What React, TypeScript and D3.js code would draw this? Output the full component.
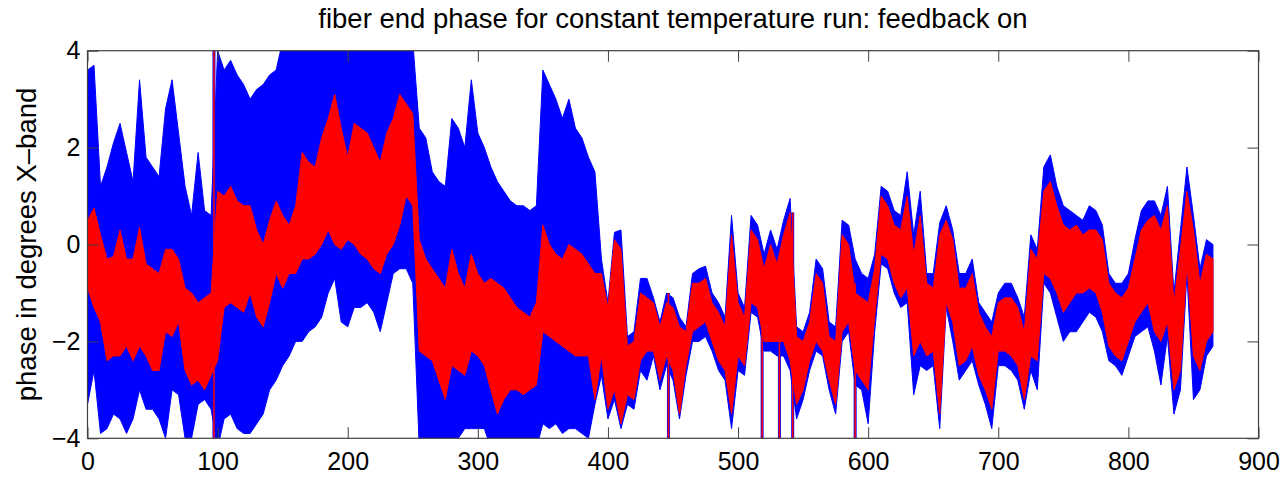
import React, { useRef, useEffect } from "react";
import * as d3 from "d3";

// envelope of the traces, every 5 units of x (0 .. 865)
const sampleStep = 5;

const blueHi = [
  3.6, 3.7, 1.2, 1.6, 2.1, 2.5, 1.9, 1.3, 3.4, 1.8,
  1.6, 1.4, 2.8, 3.4, 2.3, 1.2, 0.6, 1.9, 0.7, 0.6,
  4.0, 3.6, 3.8, 3.5, 3.3, 3.0, 3.2, 3.3, 3.5, 3.6,
  4.2, 4.2, 4.2, 4.2, 4.2, 4.2, 4.2, 4.2, 4.2, 4.2,
  4.2, 4.2, 4.2, 4.2, 4.2, 4.2, 4.2, 4.2, 4.2, 4.2,
  4.2, 2.4, 2.2, 1.5, 1.3, 1.2, 2.6, 2.4, 2.0, 3.4,
  2.3, 2.0, 1.6, 1.3, 1.1, 0.9, 0.8, 0.8, 0.7, 0.8,
  3.6, 3.3, 3.0, 2.6, 3.0, 2.4, 2.2, 1.8, 1.5, -0.3,
  -1.2, 0.25, 0.3, -1.9, -1.8, -0.7, -0.7, -1.1, -1.6, -1.0,
  -1.1, -1.5, -1.7, -0.6, -0.5, -0.45, -1.0, -1.2, -1.5, 0.6,
  -1.0, -1.3, 0.6, 0.4, -0.2, 0.3, -0.1, 0.5, 0.95, -1.7,
  -1.8, -1.4, -0.3, -0.5, -1.6, -1.7, 0.5, 0.4, -0.3, -0.6,
  -0.7, -0.2, 1.2, 1.1, 0.7, 0.6, 1.5, 0.2, 1.1, -0.6,
  -0.6, 0.45, 0.8, 0.3, -0.6, -0.6, -0.3, -1.2, -1.4, -1.6,
  -1.0, -0.8, -0.8, -1.1, -1.5, 0.2, -0.1, 1.6, 1.85, 1.2,
  0.8, 0.7, 0.6, 0.5, 0.8, 0.7, 0.4, -0.6, -0.8, -0.8,
  -0.6, 0.1, 0.7, 0.9, 0.9, 0.6, 1.2, -1.0, 0.3, 1.6,
  0.6, -0.5, 0.1, 0.0,
];

const blueLo = [
  -3.3, -2.6, -3.9, -3.8, -3.5, -3.6, -3.9, -3.6, -3.0, -3.4,
  -3.4, -3.6, -4.0, -3.0, -3.1, -4.0, -4.0, -3.3, -3.2, -3.4,
  -4.2, -3.6, -3.5, -3.8, -3.9, -3.9, -3.7, -3.5, -3.0, -2.8,
  -2.5, -2.3, -2.0, -2.0, -1.8, -1.7, -1.5, -1.0, -0.7, -1.6,
  -1.7, -1.3, -1.3, -1.2, -1.4, -1.8, -1.2, -0.6, -0.5, -0.5,
  -0.8, -4.2, -4.2, -4.2, -4.2, -4.2, -4.2, -4.0, -3.8, -3.8,
  -3.8, -3.8, -4.2, -4.2, -4.2, -4.2, -4.2, -4.2, -4.2, -4.2,
  -3.7, -3.8, -3.7, -3.9, -3.8, -3.8, -3.9, -4.0, -3.3, -2.7,
  -3.6, -3.2, -3.8, -3.3, -3.4, -2.6, -2.8, -2.3, -3.0, -2.5,
  -2.8, -3.6, -2.7, -2.0, -2.0, -1.9, -2.2, -2.6, -2.8, -3.8,
  -2.6, -2.7, -1.4, -1.5, -2.2, -2.2, -2.3, -2.3, -2.6, -3.6,
  -3.2, -2.6, -2.2, -2.3, -3.0, -3.5, -2.0, -1.8, -2.9, -3.0,
  -3.7, -1.8, -0.4, -0.5, -1.0, -1.3, -1.2, -3.1, -2.5, -2.6,
  -2.5, -3.8, -1.3, -2.0, -2.8, -2.6, -2.4, -2.9, -3.3, -3.8,
  -2.5, -2.5, -2.6, -2.8, -3.4, -2.6, -3.0, -0.8, -1.0, -1.5,
  -2.0, -1.8, -1.8, -1.6, -1.4, -1.5, -1.8, -2.4, -2.5, -2.7,
  -2.3, -1.9, -1.8, -1.7, -2.2, -2.9, -1.9, -3.5, -3.0, -0.6,
  -3.2, -3.0, -2.3, -2.1,
];

const redHi = [
  0.5, 0.75, 0.2, -0.3, -0.25, 0.3, -0.3, -0.3, 0.35, -0.4,
  -0.5, -0.6, -0.1, -0.1, -0.3, -0.9, -1.0, -1.2, -1.1, -1.0,
  1.1, 1.0, 1.2, 0.9, 0.8, 0.8, 0.3, 0.0, 0.5, 0.9,
  0.6, 0.4, 0.8, 1.9, 1.7, 1.6, 2.2, 2.6, 3.1, 2.4,
  1.8, 2.5, 2.4, 2.3, 2.0, 1.7, 2.3, 2.6, 3.1, 2.9,
  2.7, 0.1, -0.3, -0.5, -0.7, -0.9, -0.1, -0.6, -0.9, -0.2,
  -0.6, -0.8, -0.7, -0.8, -0.9, -1.1, -1.3, -1.4, -1.5, -1.2,
  0.4, 0.0, -0.2, -0.3, 0.0, -0.1, -0.2, -0.4, -0.6, -0.6,
  -1.3, 0.1, -0.1, -2.1, -2.0, -1.0, -1.1, -1.2, -1.7, -1.2,
  -1.3, -1.7, -1.8, -0.8, -0.8, -0.7, -1.2, -1.4, -1.7, 0.2,
  -1.2, -1.5, 0.3, 0.1, -0.5, 0.0, -0.4, 0.2, 0.66, -1.9,
  -2.0, -1.6, -0.6, -0.8, -1.9, -2.0, 0.2, 0.0, -1.0, -1.1,
  -1.2, -0.5, 1.0, 0.8, 0.4, 0.3, 1.0, -0.2, 0.6, -0.8,
  -0.9, 0.2, 0.5, 0.1, -0.9, -0.9, -0.6, -1.4, -1.7, -1.9,
  -1.2, -1.1, -1.1, -1.3, -1.8, -0.1, -0.3, 1.1, 1.3, 0.8,
  0.4, 0.3, 0.4, 0.2, 0.3, 0.3, 0.1, -0.8, -1.0, -1.1,
  -0.9, -0.3, 0.3, 0.5, 0.6, 0.3, 0.8, -1.2, -0.1, 1.1,
  0.3, -0.8, -0.2, -0.3,
];

const redLo = [
  -0.9, -1.3, -1.6, -2.4, -2.3, -2.3, -2.1, -2.4, -2.1, -2.3,
  -2.6, -2.6, -1.8, -1.9, -1.6, -2.6, -2.9, -2.8, -3.0, -2.7,
  -2.4, -1.3, -1.2, -1.3, -1.4, -1.0, -1.5, -1.7, -1.2, -0.6,
  -0.9, -0.6, -0.6, -0.3, -0.3, -0.2, 0.0, 0.3, 0.0, -0.1,
  0.1, 0.0, -0.2, -0.3, -0.5, -0.6, -0.2, 0.0, 0.4, 1.0,
  0.8, -2.2, -2.3, -2.4, -2.8, -3.2, -2.5, -2.6, -2.7, -2.2,
  -2.3, -2.5, -3.0, -3.5, -3.2, -3.0, -3.0, -3.1, -3.0, -2.9,
  -1.8, -1.9, -2.0, -2.1, -2.2, -2.3, -2.3, -2.3, -3.2, -2.3,
  -3.4, -3.0, -3.7, -3.1, -3.2, -2.4, -2.2, -2.2, -2.8, -2.3,
  -2.6, -3.5, -2.5, -1.8, -1.7, -1.6, -2.0, -2.4, -2.6, -3.5,
  -2.3, -2.5, -1.2, -1.3, -2.0, -2.0, -2.0, -2.0, -2.4, -3.3,
  -3.0, -2.4, -2.0, -2.2, -2.8, -3.3, -1.8, -1.6, -2.6, -2.8,
  -3.0, -1.5, -0.2, -0.3, -0.8, -1.1, -0.9, -2.3, -2.0, -2.3,
  -2.2, -3.5, -1.2, -1.6, -2.5, -2.4, -2.1, -2.7, -3.0, -3.4,
  -2.2, -2.2, -2.3, -2.5, -3.2, -2.3, -2.4, -0.6, -0.7, -1.0,
  -1.4, -1.2, -1.0, -1.0, -0.9, -1.0, -1.4, -2.1, -2.3, -2.4,
  -2.0, -1.6, -1.4, -1.2, -1.8, -2.0, -1.6, -3.0, -2.6, -0.4,
  -2.3, -2.6, -2.0, -1.8,
];

// narrow single-sample spikes
const spikeX = [97.2, 446.5, 518.5, 531.8, 542, 590];
const spikeLo = [-4.2, -4.2, -4.2, -4.2, -4.2, -4.2];
const spikeHi = [4.2, -1.0, -0.6, -0.4, 0.66, -0.8];

const xTicks = [0, 100, 200, 300, 400, 500, 600, 700, 800, 900];
const yTicks = [-4, -2, 0, 2, 4];

const titleText = "fiber end phase for constant temperature run: feedback on";
const yLabelText = "phase in degrees X\u2013band";

const FONT = "'Liberation Sans', Arial, Helvetica, sans-serif";

const App = () => {
  const svgRef = useRef(null);
  const width = 1287;
  const height = 477;

  useEffect(() => {
    const svg = d3.select(svgRef.current);
    svg.selectAll("*").remove();
    const margin = { top: 50.7, right: 28.5, bottom: 38.7, left: 87.5 };

    const x = d3
      .scaleLinear()
      .domain([0, 900])
      .range([margin.left, width - margin.right]);
    const y = d3
      .scaleLinear()
      .domain([-4, 4])
      .range([height - margin.bottom, margin.top]);

    svg
      .append("rect")
      .attr("width", width)
      .attr("height", height)
      .attr("fill", "#fff");

    svg
      .append("defs")
      .append("clipPath")
      .attr("id", "plot-clip")
      .append("rect")
      .attr("x", x(0))
      .attr("y", y(4))
      .attr("width", x(900) - x(0))
      .attr("height", y(-4) - y(4));

    const sampleX = blueHi.map((_, i) => i * sampleStep);
    const band = (hi, lo) =>
      d3
        .area()
        .x((d, i) => x(sampleX[i]))
        .y0((d, i) => y(lo[i]))
        .y1((d, i) => y(hi[i]));

    const plot = svg.append("g").attr("clip-path", "url(#plot-clip)");

    plot
      .append("path")
      .datum(blueHi)
      .attr("fill", "#0000ff")
      .attr("stroke", "#0000ff")
      .attr("stroke-width", 1)
      .attr("d", band(blueHi, blueLo));

    plot
      .append("g")
      .selectAll("line")
      .data(spikeX)
      .join("line")
      .attr("x1", (d) => x(d))
      .attr("x2", (d) => x(d))
      .attr("y1", (d, i) => y(spikeLo[i]))
      .attr("y2", (d, i) => y(spikeHi[i]))
      .attr("stroke", "#0000ff")
      .attr("stroke-width", 3);

    plot
      .append("path")
      .datum(redHi)
      .attr("fill", "#ff0000")
      .attr("stroke", "#ff0000")
      .attr("stroke-width", 1)
      .attr("d", band(redHi, redLo));

    plot
      .append("g")
      .selectAll("line")
      .data(spikeX)
      .join("line")
      .attr("x1", (d) => x(d))
      .attr("x2", (d) => x(d))
      .attr("y1", (d, i) => y(spikeLo[i]))
      .attr("y2", (d, i) => y(spikeHi[i]))
      .attr("stroke", "#ff0000")
      .attr("stroke-width", 1.5);

    const axisColor = "#404040";
    const styleAxis = (g) => {
      g.select(".domain").remove();
      g.selectAll(".tick line").attr("stroke", axisColor);
      g.selectAll(".tick text")
        .attr("fill", "#000")
        .style("font-family", FONT)
        .style("font-size", "25px");
    };

    svg
      .append("g")
      .attr("transform", `translate(0,${y(-4)})`)
      .call(d3.axisBottom(x).tickValues(xTicks).tickSize(-11).tickPadding(14).tickFormat(d3.format("d")))
      .call(styleAxis);
    svg
      .append("g")
      .attr("transform", `translate(0,${y(4)})`)
      .call(d3.axisTop(x).tickValues(xTicks).tickSize(-11).tickFormat(() => ""))
      .call(styleAxis);
    svg
      .append("g")
      .attr("transform", `translate(${x(0)},0)`)
      .call(d3.axisLeft(y).tickValues(yTicks).tickSize(-11).tickPadding(7))
      .call(styleAxis);
    svg
      .append("g")
      .attr("transform", `translate(${x(900)},0)`)
      .call(d3.axisRight(y).tickValues(yTicks).tickSize(-11).tickFormat(() => ""))
      .call(styleAxis);

    svg
      .append("rect")
      .attr("x", x(0))
      .attr("y", y(4))
      .attr("width", x(900) - x(0))
      .attr("height", y(-4) - y(4))
      .attr("fill", "none")
      .attr("stroke", axisColor)
      .attr("stroke-width", 1.2);

    svg
      .append("text")
      .attr("x", (x(0) + x(900)) / 2)
      .attr("y", 28)
      .attr("text-anchor", "middle")
      .style("font-family", FONT)
      .style("font-size", "27.5px")
      .text(titleText);

    svg
      .append("text")
      .attr("transform", `translate(36,${(y(4) + y(-4)) / 2}) rotate(-90)`)
      .attr("text-anchor", "middle")
      .style("font-family", FONT)
      .style("font-size", "27.5px")
      .text(yLabelText);
  }, []);

  return (
    <svg
      ref={svgRef}
      width={width}
      height={height}
      style={{ position: "absolute", left: 0, top: 0, display: "block" }}
    />
  );
};

export default App;
